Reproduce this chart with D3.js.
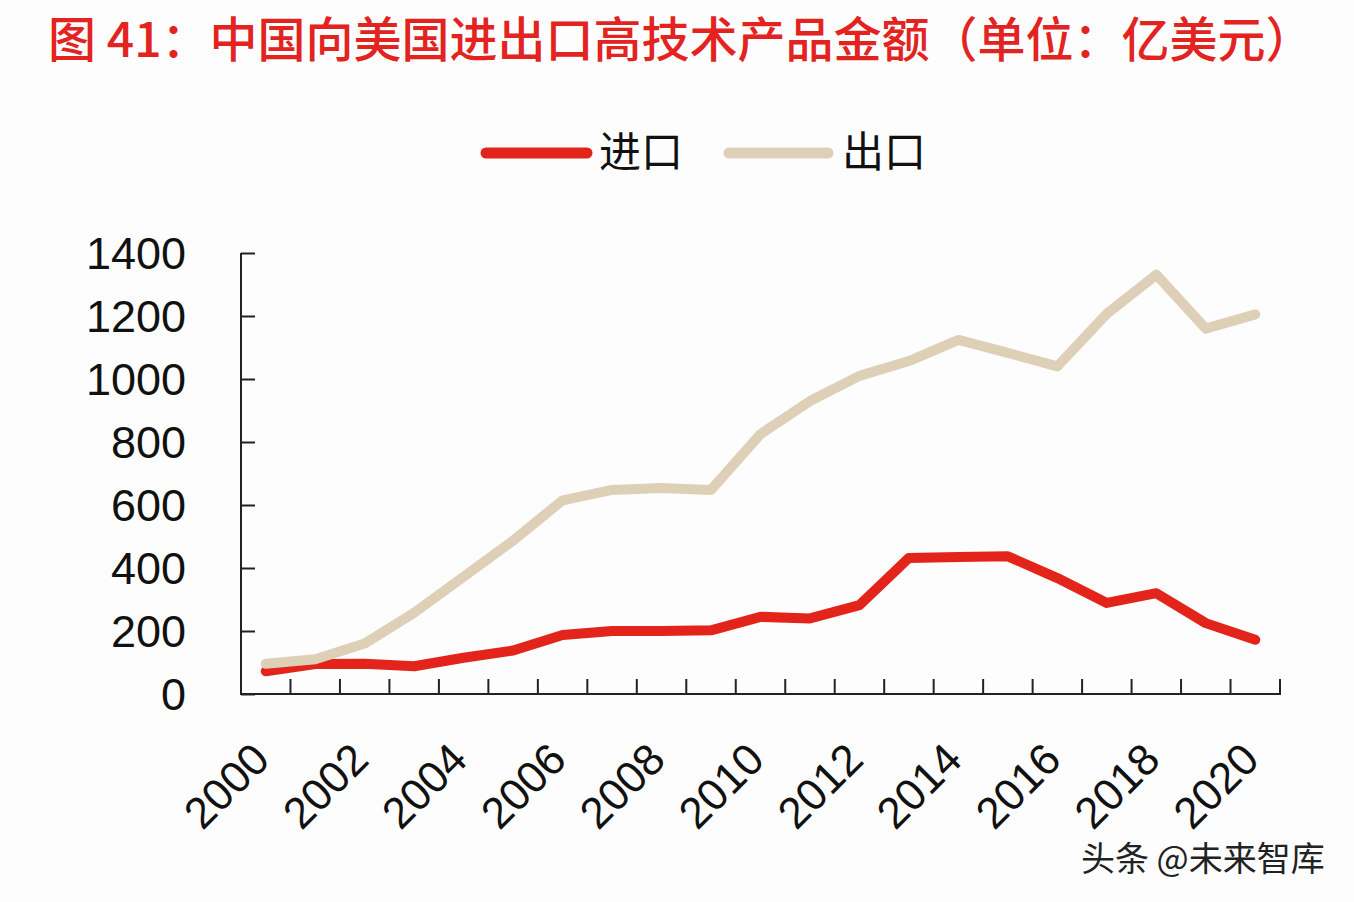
<!DOCTYPE html>
<html>
<head>
<meta charset="utf-8">
<script src="https://cdn.jsdelivr.net/npm/d3@7"></script>
<style>
  html, body { margin: 0; padding: 0; background: #fdfdfe; }
  svg { display: block; }
</style>
</head>
<body>
<svg id="chart" width="1354" height="902"></svg>
<script>
const years = [2000,2001,2002,2003,2004,2005,2006,2007,2008,2009,2010,2011,2012,2013,2014,2015,2016,2017,2018,2019,2020];
const importValues = [72,95,96,88,115,138,187,200,200,202,245,240,282,432,435,437,368,289,320,225,172];
const exportValues = [96,110,160,258,372,487,615,648,654,648,825,930,1010,1057,1124,1083,1040,1207,1331,1160,1205];
const yTicks = [0,200,400,600,800,1000,1200,1400];
const xLabelYears = [2000,2002,2004,2006,2008,2010,2012,2014,2016,2018,2020];
const titleText = "图 41：中国向美国进出口高技术产品金额（单位：亿美元）";
const seriesNames = ["进口", "出口"];
const watermark = "头条 @未来智库";

const red = "#e3241b", beige = "#ddd0b7";
const svg = d3.select("#chart");

const x = d3.scaleBand().domain(years).range([241, 1280]).padding(0);
const y = d3.scaleLinear().domain([0, 1400]).range([694, 253]);

// Title
svg.append("text")
  .attr("x", 48).attr("y", 57)
  .attr("font-family", "'Noto Sans CJK SC', sans-serif")
  .attr("font-weight", 500)
  .attr("font-size", 48)
  .attr("fill", "#e2231f")
  .text(titleText);

// Legend
const legend = [
  {name: seriesNames[0], color: red, x1: 486, x2: 587, tx: 599},
  {name: seriesNames[1], color: beige, x1: 729, x2: 828, tx: 842}
];
legend.forEach(l => {
  svg.append("line").attr("x1", l.x1).attr("x2", l.x2).attr("y1", 153).attr("y2", 153)
    .attr("stroke", l.color).attr("stroke-width", 11).attr("stroke-linecap", "round");
  svg.append("text").attr("x", l.tx).attr("y", 167)
    .attr("font-family", "'Noto Sans CJK SC', sans-serif")
    .attr("font-size", 42).attr("fill", "#111").text(l.name);
});

// Y axis
const yAxis = d3.axisRight(y).tickValues(yTicks).tickSize(14).tickFormat("");
const gy = svg.append("g").attr("transform", "translate(241,0)").call(yAxis);
gy.select(".domain").remove();
gy.selectAll(".tick line").attr("stroke", "#222").attr("stroke-width", 2);
svg.append("line").attr("x1", 241).attr("x2", 241).attr("y1", 253).attr("y2", 695)
  .attr("stroke", "#222").attr("stroke-width", 2);

svg.append("g").selectAll("text").data(yTicks).join("text")
  .attr("x", 186).attr("y", d => y(d) + 16)
  .attr("text-anchor", "end")
  .attr("font-family", "'Liberation Sans', Arial, sans-serif")
  .attr("font-size", 45).attr("fill", "#111")
  .text(d => d);

// X axis
const boundaries = years.map(d => x(d)).concat([x(years[years.length-1]) + x.bandwidth()]).slice(1);
svg.append("g").selectAll("line").data(boundaries).join("line")
  .attr("x1", d => d).attr("x2", d => d).attr("y1", 694).attr("y2", 679)
  .attr("stroke", "#222").attr("stroke-width", 2);
svg.append("line").attr("x1", 240).attr("x2", 1281).attr("y1", 694).attr("y2", 694)
  .attr("stroke", "#222").attr("stroke-width", 2);

svg.append("g").selectAll("text").data(xLabelYears).join("text")
  .attr("transform", d => `translate(${x(d) + x.bandwidth()/2 + 6},762) rotate(-45)`)
  .attr("text-anchor", "end")
  .attr("font-family", "'Liberation Sans', Arial, sans-serif")
  .attr("font-size", 44).attr("fill", "#111")
  .text(d => d);

// Lines
const line = d3.line().x((d, i) => x(years[i]) + x.bandwidth()/2).y(d => y(d));
svg.append("path").datum(importValues).attr("d", line)
  .attr("fill", "none").attr("stroke", red).attr("stroke-width", 10)
  .attr("stroke-linejoin", "round").attr("stroke-linecap", "round");
svg.append("path").datum(exportValues).attr("d", line)
  .attr("fill", "none").attr("stroke", beige).attr("stroke-width", 10)
  .attr("stroke-linejoin", "round").attr("stroke-linecap", "round");

// Watermark
svg.append("text").attr("x", 1081).attr("y", 871)
  .attr("font-family", "'Noto Sans CJK SC', sans-serif")
  .attr("font-size", 34).attr("fill", "#222")
  .text(watermark);
</script>
</body>
</html>
